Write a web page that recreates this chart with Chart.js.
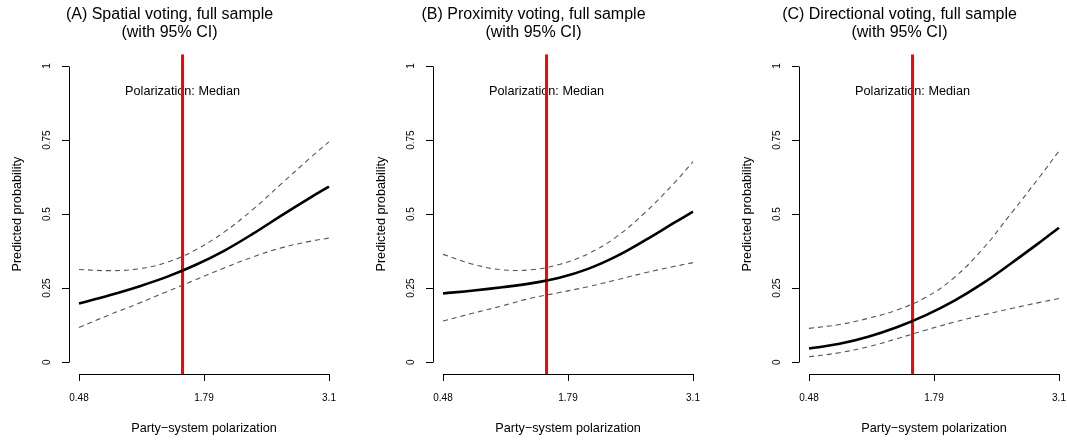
<!DOCTYPE html>
<html lang="en">
<head>
  <meta charset="UTF-8" />
  <title>Predicted probability by party-system polarization</title>
  <script src="https://cdn.jsdelivr.net/npm/chart.js"></script>
  <style>
    body {
      margin: 0;
      background: #fff;
      width: 1067px;
      height: 443px;
      overflow: hidden;
      position: relative;
    }

    .panel {
      position: absolute;
      top: 0;
      width: 408px;
      height: 443px;
    }
  </style>
</head>
<body>

  <div class="panel" style="left:0px"><canvas id="panelA" width="408" height="443"></canvas></div>
  <div class="panel" style="left:364px"><canvas id="panelB" width="408" height="443"></canvas></div>
  <div class="panel" style="left:730px"><canvas id="panelC" width="408" height="443"></canvas></div>

  <script>
    // x grid (party-system polarization) and the median marker
    const polarization = [0.48, 0.8, 1.1, 1.4, 1.7, 2.0, 2.3, 2.6, 2.9, 3.1];
    const medianPolarization = 1.565;

    const xTicks = [0.48, 1.79, 3.1];
    const xTickLabels = ['0.48', '1.79', '3.1'];
    const yTicks = [0, 0.25, 0.5, 0.75, 1];
    const yTickLabels = ['0', '0.25', '0.5', '0.75', '1'];

    // (A) spatial voting
    const spatialFit   = [0.198, 0.226, 0.255, 0.288, 0.328, 0.376, 0.433, 0.495, 0.555, 0.593];
    const spatialUpper = [0.313, 0.309, 0.315, 0.337, 0.379, 0.439, 0.515, 0.602, 0.689, 0.744];
    const spatialLower = [0.117, 0.160, 0.198, 0.238, 0.278, 0.318, 0.355, 0.386, 0.408, 0.419];

    // (B) proximity voting
    const proximityFit   = [0.232, 0.242, 0.253, 0.266, 0.285, 0.315, 0.358, 0.412, 0.470, 0.508];
    const proximityUpper = [0.364, 0.330, 0.312, 0.312, 0.330, 0.366, 0.424, 0.506, 0.604, 0.677];
    const proximityLower = [0.139, 0.166, 0.190, 0.216, 0.235, 0.255, 0.278, 0.302, 0.323, 0.336];

    // (C) directional voting
    const directionalFit   = [0.046, 0.062, 0.086, 0.118, 0.158, 0.207, 0.266, 0.334, 0.405, 0.454];
    const directionalUpper = [0.114, 0.127, 0.148, 0.176, 0.218, 0.285, 0.382, 0.503, 0.627, 0.713];
    const directionalLower = [0.018, 0.032, 0.052, 0.079, 0.108, 0.135, 0.159, 0.181, 0.202, 0.215];

    const FONT = "'Liberation Sans', Arial, Helvetica, sans-serif";

    // R style axes: line only from first to last tick
    const axisLines = {
      id: 'axisLines',
      afterDraw(chart) {
        const { ctx, chartArea, scales: { x, y } } = chart;
        const ax = Math.round(chartArea.left) + 0.5;
        const ay = Math.round(chartArea.bottom) + 0.5;
        ctx.save();
        ctx.strokeStyle = '#000';
        ctx.lineWidth = 1;
        ctx.beginPath();
        ctx.moveTo(ax, Math.round(y.getPixelForValue(yTicks[0])) + 0.5);
        ctx.lineTo(ax, Math.round(y.getPixelForValue(yTicks[yTicks.length - 1])) + 0.5);
        ctx.moveTo(Math.round(x.getPixelForValue(xTicks[0])) + 0.5, ay);
        ctx.lineTo(Math.round(x.getPixelForValue(xTicks[xTicks.length - 1])) + 0.5, ay);
        ctx.stroke();
        ctx.restore();
      }
    };

    // label next to the median line (drawn under the red line)
    const medianLabel = {
      id: 'medianLabel',
      beforeDatasetsDraw(chart) {
        const { ctx, scales: { x, y } } = chart;
        ctx.save();
        ctx.font = '12.7px ' + FONT;
        ctx.fillStyle = '#000';
        ctx.textAlign = 'center';
        ctx.textBaseline = 'middle';
        ctx.fillText('Polarization: Median', x.getPixelForValue(medianPolarization), y.getPixelForValue(0.915));
        ctx.restore();
      }
    };

    function toPoints(values) {
      return polarization.map((p, i) => ({ x: p, y: values[i] }));
    }

    function makePanel(id, title, fit, upper, lower) {
      const ctx = document.getElementById(id).getContext('2d');
      return new Chart(ctx, {
        type: 'line',
        data: {
          datasets: [
            {
              label: 'Predicted',
              data: toPoints(fit),
              borderColor: '#000',
              borderWidth: 2.6,
              tension: 0.4
            },
            {
              label: 'Median',
              data: [{ x: medianPolarization, y: -0.04 }, { x: medianPolarization, y: 1.04 }],
              borderColor: '#ff0000',
              borderWidth: 3
            },
            {
              label: 'Upper 95% CI',
              data: toPoints(upper),
              borderColor: '#555',
              borderWidth: 1.1,
              borderDash: [5, 4],
              tension: 0.4
            },
            {
              label: 'Lower 95% CI',
              data: toPoints(lower),
              borderColor: '#555',
              borderWidth: 1.1,
              borderDash: [5, 4],
              tension: 0.4
            }
          ]
        },
        options: {
          responsive: false,
          animation: false,
          elements: { point: { radius: 0 } },
          layout: { padding: { left: 0, right: 69, top: 0, bottom: 0 } },
          plugins: {
            legend: { display: false },
            tooltip: { enabled: false },
            title: {
              display: true,
              text: [title, '(with 95% CI)'],
              color: '#000',
              font: { family: FONT, size: 16, weight: 'normal', lineHeight: 1.15 },
              padding: { top: 5.3, bottom: 12.1 }
            }
          },
          scales: {
            x: {
              type: 'linear',
              min: 0.48 - 0.04 * 2.62,
              max: 3.1 + 0.04 * 2.62,
              afterBuildTicks: (s) => { s.ticks = xTicks.map(v => ({ value: v })); },
              afterFit: (s) => { s.height = 69; },
              border: { display: false },
              grid: { drawOnChartArea: false, drawTicks: true, tickLength: 7, color: '#000', lineWidth: 1 },
              ticks: {
                autoSkip: false,
                maxRotation: 0,
                padding: 11,
                color: '#000',
                font: { family: FONT, size: 10 },
                callback: (v, i) => xTickLabels[i]
              },
              title: {
                display: true,
                text: 'Party\u2212system polarization',
                color: '#000',
                font: { family: FONT, size: 12.7 },
                padding: { top: 0, bottom: 7.1 }
              }
            },
            y: {
              type: 'linear',
              min: -0.04,
              max: 1.04,
              afterBuildTicks: (s) => { s.ticks = yTicks.map(v => ({ value: v })); },
              afterFit: (s) => { s.width = 69; },
              border: { display: false },
              grid: { drawOnChartArea: false, drawTicks: true, tickLength: 7, color: '#000', lineWidth: 1 },
              ticks: {
                autoSkip: false,
                minRotation: 90,
                maxRotation: 90,
                crossAlign: 'center',
                padding: 5.5,
                color: '#000',
                font: { family: FONT, size: 10 },
                callback: (v, i) => yTickLabels[i]
              },
              title: {
                display: true,
                text: 'Predicted probability',
                color: '#000',
                font: { family: FONT, size: 12.7 },
                padding: { top: 9.4, bottom: 0 }
              }
            }
          }
        },
        plugins: [axisLines, medianLabel]
      });
    }

    document.addEventListener('DOMContentLoaded', () => {
      makePanel('panelA', '(A) Spatial voting, full sample', spatialFit, spatialUpper, spatialLower);
      makePanel('panelB', '(B) Proximity voting, full sample', proximityFit, proximityUpper, proximityLower);
      makePanel('panelC', '(C) Directional voting, full sample', directionalFit, directionalUpper, directionalLower);
    });
  </script>
</body>
</html>
